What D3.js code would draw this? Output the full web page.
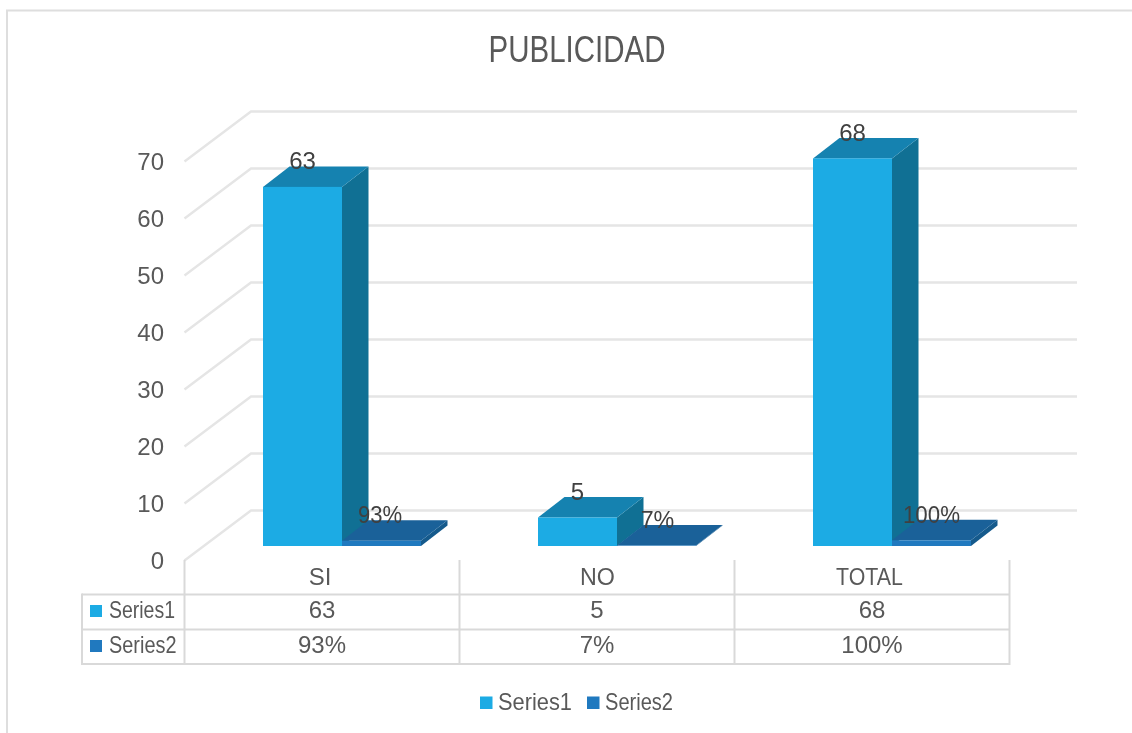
<!DOCTYPE html>
<html><head><meta charset="utf-8">
<script src="https://cdn.jsdelivr.net/npm/d3@7/dist/d3.min.js"></script>
<style>html,body{margin:0;padding:0;background:#fff;overflow:hidden}svg{display:block;filter:blur(0.4px)}text{font-family:"Liberation Sans",Arial,sans-serif}</style>
</head><body><svg id="c" width="1132" height="733"></svg>
<script>
const titleText = "PUBLICIDAD";
const categories = ["SI","NO","TOTAL"];
const series1 = [63,5,68];
const series2 = [0.93,0.07,1];
const series2Labels = ["93%","7%","100%"];
const seriesNames = ["Series1","Series2"];
const yTicks = [0,10,20,30,40,50,60,70];

const svg = d3.select("#c");
const x = d3.scaleBand().domain(categories).range([184.5,1009.5]);
const y = d3.scaleLinear().domain([0,70]).range([546,147]);
const C1 = {front:"#1CABE4",side:"#107094",top:"#1582B0"};
const C2 = {front:"#2079BF",side:"#155A8C",top:"#1A6199"};
const grid = "#e5e5e5", tbl = "#d9d9d9", txt = "#595959", lab = "#404040";
const wall = {dx:66.5, dy:-50};
const bar = {dx:26.5, dy:-20.5, w:79, off:-59};
const FS = 24;

// squeeze text horizontally to a width, as the stretched original does
function squeeze(sel, w){ return sel.attr("textLength",w).attr("lengthAdjust","spacingAndGlyphs"); }
function squeezeBy(sel, f){ return sel.each(function(){ squeeze(d3.select(this), this.getComputedTextLength()*f); }); }

// frame (open on the right)
svg.append("path").attr("d","M7 733V10.5H1132").attr("fill","none").attr("stroke","#dedede").attr("stroke-width",2);

// title
squeeze(svg.append("text").attr("x",577).attr("y",62).attr("text-anchor","middle")
  .attr("font-size",37).attr("fill",txt).text(titleText),177);

// 3D gridlines
const g = svg.append("g").attr("fill","none").attr("stroke",grid).attr("stroke-width",2.4);
yTicks.forEach(t=>{
  const yy = y(t)+14.5;
  g.append("path").attr("d",`M184.5 ${yy}L${184.5+wall.dx} ${yy+wall.dy}H1077`);
});

// y labels
svg.append("g").selectAll("text").data(yTicks).join("text")
  .attr("x",164).attr("y",d=>y(d)+22.5).attr("text-anchor","end")
  .attr("font-size",FS).attr("fill",txt).text(d=>d);

function box(sel,x0,val,c){
  const t=y(val), b=y(0), w=bar.w, dx=bar.dx, dy=bar.dy;
  sel.append("path").attr("fill",c.side).attr("d",`M${x0+w} ${t}l${dx} ${dy}V${b+dy}L${x0+w} ${b}Z`);
  sel.append("path").attr("fill",c.top).attr("d",`M${x0} ${t}l${dx} ${dy}h${w}l${-dx} ${-dy}Z`);
  sel.append("rect").attr("fill",c.front).attr("x",x0).attr("y",t).attr("width",w).attr("height",b-t);
}
const bars = svg.append("g");
categories.forEach((cat,i)=>{
  const cx = x(cat)+x.bandwidth()/2;
  box(bars,cx+bar.off,series1[i],C1);
  box(bars,cx+bar.off+bar.w,series2[i],C2);
});

// data labels
const labelSqueeze=[0.92,0.97,0.93], labelShift=[58,60.5,59.5];
const dl = svg.append("g").attr("font-size",FS).attr("fill",lab).attr("text-anchor","middle");
categories.forEach((cat,i)=>{
  const cx = x(cat)+x.bandwidth()/2;
  dl.append("text").attr("x",cx-19.5).attr("y",y(series1[i])-17.5).text(series1[i]);
  squeezeBy(dl.append("text").attr("x",cx+labelShift[i]).attr("y",y(series2[i])-17.8).text(series2Labels[i]),labelSqueeze[i]);
});

// data table
const rows=[594.5,629.5,664];
const t = svg.append("g").attr("stroke",tbl).attr("stroke-width",2).attr("fill","none");
rows.forEach(r=>t.append("path").attr("d",`M82 ${r}H1009.5`));
t.append("path").attr("d",`M82 ${rows[0]-1}V${rows[2]+1}`);
categories.forEach(c=>t.append("path").attr("d",`M${x(c)} 560V${rows[2]}`));
t.append("path").attr("d",`M1009.5 560V${rows[2]+1}`);

const headerShift=[-2,0.5,-2.5], headerSqueeze=[1,0.97,0.89];
const tt = svg.append("g").attr("font-size",FS).attr("fill",txt).attr("text-anchor","middle");
categories.forEach((cat,i)=>{
  const cx=x(cat)+x.bandwidth()/2;
  squeezeBy(tt.append("text").attr("x",cx+headerShift[i]).attr("y",585).text(cat),headerSqueeze[i]);
  tt.append("text").attr("x",cx).attr("y",618).text(series1[i]);
  tt.append("text").attr("x",cx).attr("y",653).text(series2Labels[i]);
});
seriesNames.forEach((n,i)=>{
  const cy=[611,646][i];
  svg.append("rect").attr("x",90).attr("y",cy-6).attr("width",12).attr("height",12).attr("fill",i?C2.front:C1.front);
  squeeze(svg.append("text").attr("x",109).attr("y",cy+7).attr("font-size",FS).attr("fill",txt).text(n),[66,67.5][i]);
});

// legend
const lx=[480,587], lw=[74,68];
seriesNames.forEach((n,i)=>{
  svg.append("rect").attr("x",lx[i]).attr("y",696.5).attr("width",12.5).attr("height",12.5).attr("fill",i?C2.front:C1.front);
  squeeze(svg.append("text").attr("x",lx[i]+18).attr("y",710).attr("font-size",FS).attr("fill",txt).text(n),lw[i]);
});
</script></body></html>
